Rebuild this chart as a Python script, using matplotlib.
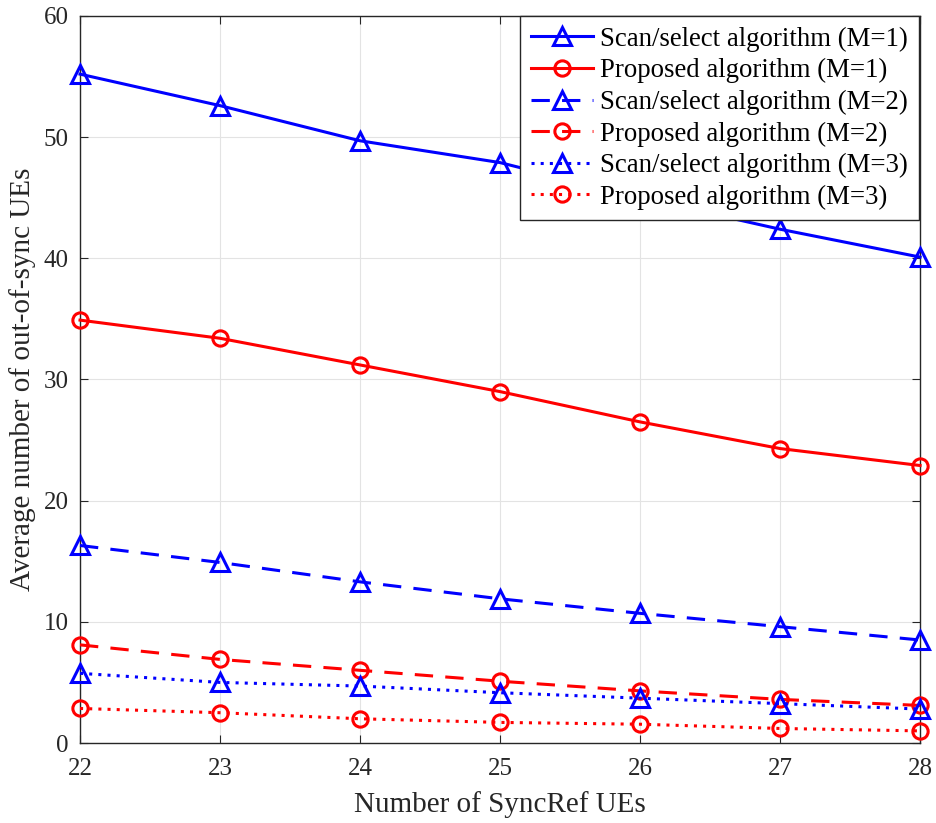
import numpy as np
import matplotlib
matplotlib.use("Agg")
import matplotlib.pyplot as plt

plt.rcParams["font.family"] = ["Liberation Serif", "DejaVu Serif"]
plt.rcParams["mathtext.fontset"] = "stix"

syncref_ues = [22, 23, 24, 25, 26, 27, 28]

scan_m1 = [55.2, 52.6, 49.7, 47.9, 45.0, 42.4, 40.1]
prop_m1 = [34.9, 33.4, 31.2, 29.0, 26.5, 24.3, 22.9]
scan_m2 = [16.3, 14.9, 13.3, 11.9, 10.7, 9.6, 8.5]
prop_m2 = [8.1, 6.9, 6.0, 5.1, 4.3, 3.6, 3.1]
scan_m3 = [5.75, 5.0, 4.7, 4.15, 3.7, 3.25, 2.8]
prop_m3 = [2.85, 2.5, 2.0, 1.7, 1.55, 1.2, 1.0]

labels = [
    "Scan/select algorithm (M=1)",
    "Proposed algorithm (M=1)",
    "Scan/select algorithm (M=2)",
    "Proposed algorithm (M=2)",
    "Scan/select algorithm (M=3)",
    "Proposed algorithm (M=3)",
]

fig = plt.figure(figsize=(9.36, 8.23), dpi=100)
ax = fig.add_axes([0.0855, 0.0972, 0.8975, 0.8834])

series = [
    (scan_m1, "b", "-", "^"),
    (prop_m1, "r", "-", "o"),
    (scan_m2, "b", (0, (6, 4)), "^"),
    (prop_m2, "r", (0, (6, 4)), "o"),
    (scan_m3, "b", (0, (1, 2)), "^"),
    (prop_m3, "r", (0, (1, 2)), "o"),
]

for (vals, col, ls, mk), lab in zip(series, labels):
    ms = 13.5 if mk == "^" else 11
    ax.plot(syncref_ues, vals, color=col, linestyle=ls, linewidth=2.2,
            marker=mk, markersize=ms, markerfacecolor="none",
            markeredgecolor=col, markeredgewidth=2.2, label=lab,
            clip_on=False, zorder=3)

ax.set_xlim(22, 28)
ax.set_ylim(0, 60)
ax.set_xticks(syncref_ues)
ax.set_yticks(np.arange(0, 61, 10))
ax.tick_params(direction="in", top=True, right=True, length=6,
               labelsize=18, colors="#262626")
ax.tick_params(axis="x", pad=11)
ax.tick_params(axis="y", pad=8)
for s in ax.spines.values():
    s.set_color("#262626")
    s.set_linewidth(1)
ax.grid(True, color="#e3e3e3", linewidth=0.8)
ax.set_axisbelow(True)

ax.set_xlabel("Number of SyncRef UEs", fontsize=21, color="#262626", labelpad=8)
ax.set_ylabel("Average number of out-of-sync UEs", fontsize=21, color="#262626",
              labelpad=6)

# legend box sits flush against the top edge of the axes
leg = ax.legend(loc="upper right", bbox_to_anchor=(0.9985, 1.0),
                fontsize=19.3, frameon=True, fancybox=False,
                edgecolor="#262626", framealpha=1, handlelength=2.3,
                borderaxespad=0, labelspacing=0.24, handletextpad=0.28,
                borderpad=0.4)
leg.get_frame().set_linewidth(1)

fig.savefig("out.png", dpi=100)
